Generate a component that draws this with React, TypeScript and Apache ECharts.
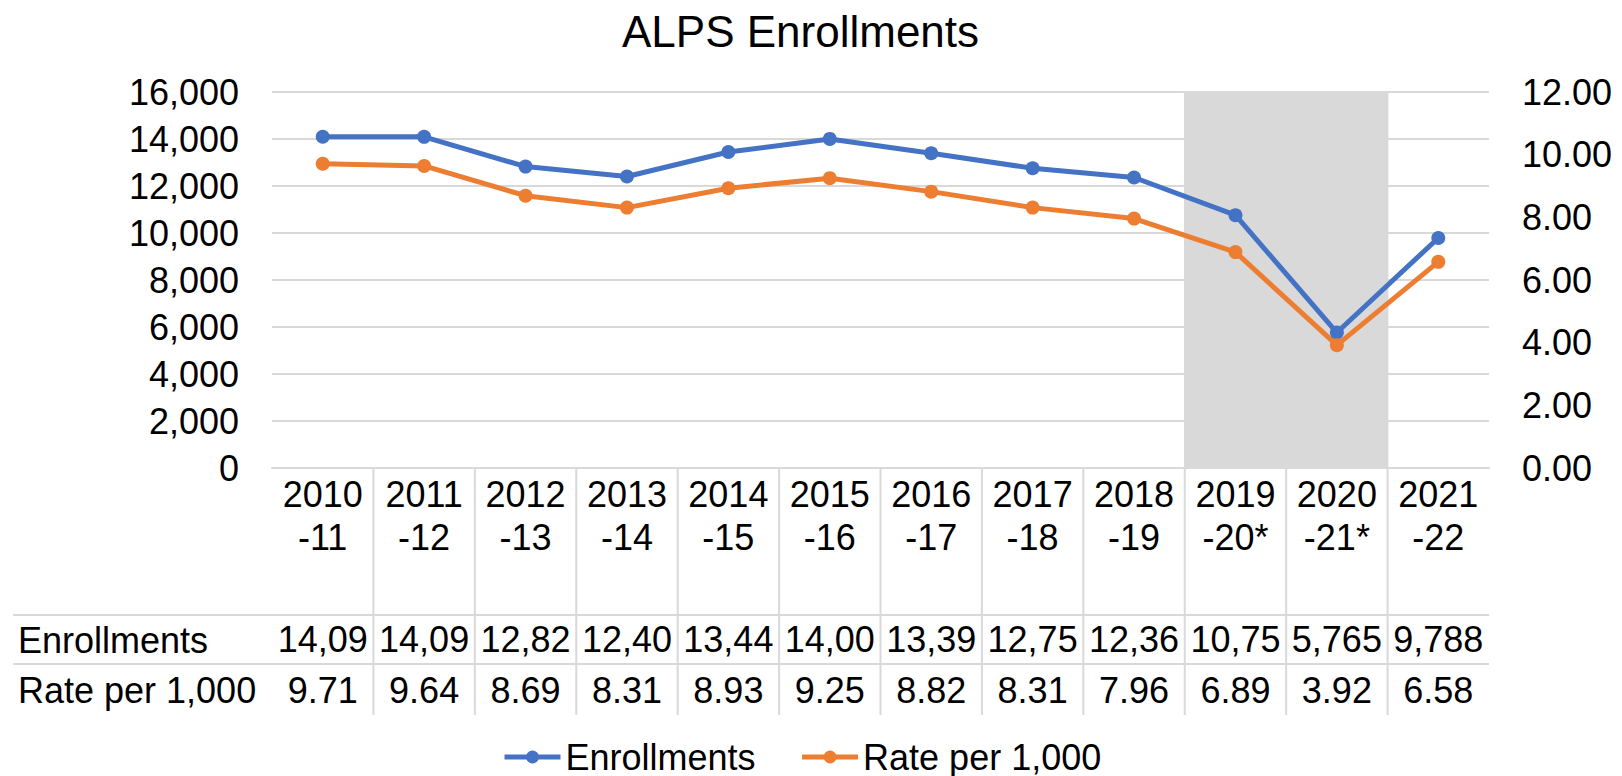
import React, { useEffect, useRef } from "react";
import * as echarts from "echarts";

const FONT = "'Liberation Sans', Arial, Helvetica, sans-serif";

const categories = [
  "2010-11", "2011-12", "2012-13", "2013-14", "2014-15", "2015-16",
  "2016-17", "2017-18", "2018-19", "2019-20*", "2020-21*", "2021-22",
];
const enrollments = [14096, 14092, 12825, 12403, 13445, 14004, 13396, 12753, 12362, 10757, 5765, 9788];
const ratePer1000 = [9.71, 9.64, 8.69, 8.31, 8.93, 9.25, 8.82, 8.31, 7.96, 6.89, 3.92, 6.58];
const shadedCategories = ["2019-20*", "2020-21*"];

const leftAxis = { min: 0, max: 16000, interval: 2000 };
const rightAxis = { min: 0, max: 12, interval: 2 };

// table cells are clipped to 5 characters as in the source
const enrollCells = enrollments.map((v) => v.toLocaleString("en-US").slice(0, 5));
const rateCells = ratePer1000.map((v) => v.toFixed(2));

const GRID = "#D9D9D9";

export default function App() {
  const ref = useRef<HTMLDivElement>(null);
  useEffect(() => {
    const chart = echarts.init(ref.current!, null, { renderer: "svg" });
    const txt = { fontFamily: FONT, fontSize: 36, color: "#000" };
    chart.setOption({
      animation: false,
      backgroundColor: "#fff",
      title: {
        text: "ALPS Enrollments",
        left: 617,
        top: 4,
        textStyle: { fontFamily: FONT, fontSize: 44, fontWeight: "normal", color: "#000" },
      },
      grid: { left: 272, top: 92, width: 1217, height: 376, containLabel: false },
      legend: {
        data: ["Enrollments", "Rate per 1,000"],
        left: 497,
        top: 734,
        itemWidth: 56,
        itemHeight: 16,
        itemGap: 44,
        lineStyle: { width: 5 },
        textStyle: { ...txt, lineHeight: 36, padding: [0, 0, 0, 0] },
      },
      xAxis: [
        {
          type: "category",
          data: categories,
          boundaryGap: true,
          axisLine: { show: true, lineStyle: { color: GRID, width: 2 } },
          axisTick: { show: false },
          splitLine: { show: false },
          axisLabel: {
            ...txt,
            interval: 0,
            margin: 5,
            lineHeight: 43,
            formatter: (v: string) => v.replace("-", "\n-"),
          },
        },
        {
          type: "category",
          data: categories,
          position: "bottom",
          offset: 153,
          axisLine: { show: false },
          axisTick: { show: false },
          splitLine: { show: false },
          axisLabel: {
            ...txt,
            interval: 0,
            margin: 0,
            lineHeight: 36,
            formatter: (_v: string, i: number) => enrollCells[i],
          },
        },
        {
          type: "category",
          data: categories,
          position: "bottom",
          offset: 204,
          axisLine: { show: false },
          axisTick: { show: false },
          splitLine: { show: false },
          axisLabel: {
            ...txt,
            interval: 0,
            margin: 0,
            lineHeight: 36,
            formatter: (_v: string, i: number) => rateCells[i],
          },
        },
      ],
      yAxis: [
        {
          type: "value",
          ...leftAxis,
          axisLine: { show: false },
          axisTick: { show: false },
          splitLine: { show: true, lineStyle: { color: GRID, width: 2 } },
          axisLabel: { ...txt, margin: 33, formatter: (v: number) => v.toLocaleString("en-US") },
        },
        {
          type: "value",
          position: "right",
          ...rightAxis,
          axisLine: { show: false },
          axisTick: { show: false },
          splitLine: { show: false },
          axisLabel: { ...txt, margin: 33, formatter: (v: number) => v.toFixed(2) },
        },
      ],
      graphic: [
        { type: "line", shape: { x1: 13, y1: 615, x2: 1489, y2: 615 }, style: { stroke: GRID, lineWidth: 2 }, silent: true },
        { type: "line", shape: { x1: 13, y1: 664, x2: 1489, y2: 664 }, style: { stroke: GRID, lineWidth: 2 }, silent: true },
        { type: "text", x: 18, y: 640, style: { text: "Enrollments", font: `36px ${FONT}`, fill: "#000", verticalAlign: "middle" } },
        { type: "text", x: 18, y: 690, style: { text: "Rate per 1,000", font: `36px ${FONT}`, fill: "#000", verticalAlign: "middle" } },
      ],
      series: [
        {
          name: "shade",
          type: "bar",
          xAxisIndex: 0,
          yAxisIndex: 0,
          data: categories.map((c) => (shadedCategories.includes(c) ? leftAxis.max : null)),
          barWidth: 103,
          itemStyle: { color: GRID },
          silent: true,
          z: 1,
        },
        {
          name: "separators",
          type: "custom",
          xAxisIndex: 0,
          yAxisIndex: 0,
          clip: false,
          silent: true,
          data: categories.slice(1).map((c) => [c, 0]),
          encode: { x: 0, y: 1 },
          renderItem: (_p: any, api: any) => {
            const pt = api.coord([api.value(0), 0]);
            const w = api.size([1, 0])[0];
            const x = pt[0] - w / 2;
            return {
              type: "line",
              shape: { x1: x, y1: pt[1], x2: x, y2: pt[1] + 247 },
              style: { stroke: GRID, lineWidth: 2 },
            };
          },
          z: 1,
        },
        {
          name: "Enrollments",
          type: "line",
          xAxisIndex: 0,
          yAxisIndex: 0,
          data: enrollments,
          color: "#4472C4",
          lineStyle: { width: 5, color: "#4472C4" },
          itemStyle: { color: "#4472C4" },
          symbol: "circle",
          symbolSize: 14,
          showSymbol: true,
          z: 3,
        },
        {
          name: "Rate per 1,000",
          type: "line",
          xAxisIndex: 0,
          yAxisIndex: 1,
          data: ratePer1000,
          color: "#ED7D31",
          lineStyle: { width: 5, color: "#ED7D31" },
          itemStyle: { color: "#ED7D31" },
          symbol: "circle",
          symbolSize: 14,
          showSymbol: true,
          z: 3,
        },
      ],
    });
    return () => chart.dispose();
  }, []);
  return (
    <div
      ref={ref}
      style={{ position: "fixed", left: 0, top: 0, width: 1622, height: 776, background: "#fff" }}
    />
  );
}
